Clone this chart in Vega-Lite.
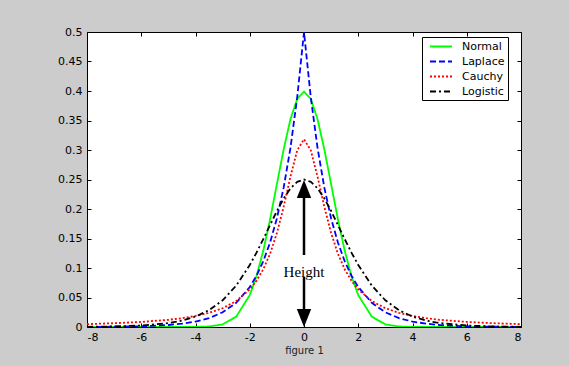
{
  "$schema": "https://vega.github.io/schema/vega-lite/v6.json",
  "width": 434,
  "height": 295,
  "autosize": {"type": "none"},
  "padding": {"left": 87, "top": 32, "right": 48, "bottom": 39},
  "background": "#cccccc",
  "config": {
    "view": {"fill": "white", "stroke": "black", "strokeWidth": 1},
    "axis": {
      "domain": false,
      "grid": false,
      "tickColor": "black",
      "tickSize": -4,
      "labelFont": "DejaVu Sans",
      "labelFontSize": 11,
      "labelColor": "black",
      "titleFont": "DejaVu Sans",
      "titleFontSize": 10,
      "titleFontWeight": "normal",
      "titleColor": "#222222"
    },
    "legend": {
      "orient": "none",
      "legendX": 335,
      "legendY": 5,
      "padding": 3,
      "strokeColor": "black",
      "fillColor": "white",
      "symbolType": "M-2,0L2,0",
      "symbolSize": 121,
      "symbolOffset": 9.5,
      "symbolStrokeWidth": 2,
      "labelFont": "DejaVu Sans",
      "labelFontSize": 11,
      "labelColor": "black",
      "labelOffset": 14.5,
      "labelExpr": "datum.label + '   '",
      "rowPadding": 3
    }
  },
  "resolve": {"axis": {"x": "independent", "y": "independent"}},
  "layer": [
    {
      "data": {"values": [
        {"x": -8, "Normal": 0, "Laplace": 0.00017, "Cauchy": 0.0049, "Logistic": 0.0003},
        {"x": -7, "Normal": 0, "Laplace": 0.00046, "Cauchy": 0.0064, "Logistic": 0.0009},
        {"x": -6, "Normal": 0, "Laplace": 0.0012, "Cauchy": 0.0086, "Logistic": 0.0025},
        {"x": -5, "Normal": 0, "Laplace": 0.0034, "Cauchy": 0.0122, "Logistic": 0.0066},
        {"x": -4.5, "Normal": 0.00002, "Laplace": 0.0056, "Cauchy": 0.015, "Logistic": 0.0109},
        {"x": -4, "Normal": 0.00013, "Laplace": 0.0092, "Cauchy": 0.0187, "Logistic": 0.0177},
        {"x": -3.5, "Normal": 0.0009, "Laplace": 0.0151, "Cauchy": 0.024, "Logistic": 0.0285},
        {"x": -3, "Normal": 0.0044, "Laplace": 0.0249, "Cauchy": 0.0318, "Logistic": 0.0452},
        {"x": -2.5, "Normal": 0.0175, "Laplace": 0.041, "Cauchy": 0.0439, "Logistic": 0.0701},
        {"x": -2, "Normal": 0.054, "Laplace": 0.0677, "Cauchy": 0.0637, "Logistic": 0.105},
        {"x": -1.75, "Normal": 0.0863, "Laplace": 0.0869, "Cauchy": 0.0784, "Logistic": 0.1261},
        {"x": -1.5, "Normal": 0.1295, "Laplace": 0.1116, "Cauchy": 0.0979, "Logistic": 0.1491},
        {"x": -1.25, "Normal": 0.1826, "Laplace": 0.1433, "Cauchy": 0.1242, "Logistic": 0.1729},
        {"x": -1, "Normal": 0.242, "Laplace": 0.1839, "Cauchy": 0.1592, "Logistic": 0.1966},
        {"x": -0.75, "Normal": 0.3011, "Laplace": 0.2362, "Cauchy": 0.2037, "Logistic": 0.2179},
        {"x": -0.5, "Normal": 0.3521, "Laplace": 0.3033, "Cauchy": 0.2546, "Logistic": 0.235},
        {"x": -0.25, "Normal": 0.3867, "Laplace": 0.3894, "Cauchy": 0.2996, "Logistic": 0.2461},
        {"x": 0, "Normal": 0.3989, "Laplace": 0.5, "Cauchy": 0.3183, "Logistic": 0.25},
        {"x": 0.25, "Normal": 0.3867, "Laplace": 0.3894, "Cauchy": 0.2996, "Logistic": 0.2461},
        {"x": 0.5, "Normal": 0.3521, "Laplace": 0.3033, "Cauchy": 0.2546, "Logistic": 0.235},
        {"x": 0.75, "Normal": 0.3011, "Laplace": 0.2362, "Cauchy": 0.2037, "Logistic": 0.2179},
        {"x": 1, "Normal": 0.242, "Laplace": 0.1839, "Cauchy": 0.1592, "Logistic": 0.1966},
        {"x": 1.25, "Normal": 0.1826, "Laplace": 0.1433, "Cauchy": 0.1242, "Logistic": 0.1729},
        {"x": 1.5, "Normal": 0.1295, "Laplace": 0.1116, "Cauchy": 0.0979, "Logistic": 0.1491},
        {"x": 1.75, "Normal": 0.0863, "Laplace": 0.0869, "Cauchy": 0.0784, "Logistic": 0.1261},
        {"x": 2, "Normal": 0.054, "Laplace": 0.0677, "Cauchy": 0.0637, "Logistic": 0.105},
        {"x": 2.5, "Normal": 0.0175, "Laplace": 0.041, "Cauchy": 0.0439, "Logistic": 0.0701},
        {"x": 3, "Normal": 0.0044, "Laplace": 0.0249, "Cauchy": 0.0318, "Logistic": 0.0452},
        {"x": 3.5, "Normal": 0.0009, "Laplace": 0.0151, "Cauchy": 0.024, "Logistic": 0.0285},
        {"x": 4, "Normal": 0.00013, "Laplace": 0.0092, "Cauchy": 0.0187, "Logistic": 0.0177},
        {"x": 4.5, "Normal": 0.00002, "Laplace": 0.0056, "Cauchy": 0.015, "Logistic": 0.0109},
        {"x": 5, "Normal": 0, "Laplace": 0.0034, "Cauchy": 0.0122, "Logistic": 0.0066},
        {"x": 6, "Normal": 0, "Laplace": 0.0012, "Cauchy": 0.0086, "Logistic": 0.0025},
        {"x": 7, "Normal": 0, "Laplace": 0.00046, "Cauchy": 0.0064, "Logistic": 0.0009},
        {"x": 8, "Normal": 0, "Laplace": 0.00017, "Cauchy": 0.0049, "Logistic": 0.0003}
      ]},
      "transform": [{"fold": ["Normal", "Laplace", "Cauchy", "Logistic"], "as": ["dist", "density"]}],
      "mark": {"type": "line", "strokeWidth": 1.8, "clip": true},
      "encoding": {
        "x": {"field": "x", "type": "quantitative",
              "scale": {"domain": [-8, 8], "nice": false, "zero": false},
              "axis": {"values": [-8, -6, -4, -2, 0, 2, 4, 6, 8], "labelExpr": "'' + datum.value", "labelPadding": 8, "title": "figure 1", "titlePadding": 3}},
        "y": {"field": "density", "type": "quantitative",
              "scale": {"domain": [0, 0.5], "nice": false},
              "axis": {"values": [0, 0.05, 0.1, 0.15, 0.2, 0.25, 0.3, 0.35, 0.4, 0.45, 0.5], "format": "~g", "labelPadding": 9, "title": null}},
        "color": {"field": "dist", "type": "nominal", "title": null,
                  "scale": {"domain": ["Normal", "Laplace", "Cauchy", "Logistic"], "range": ["#00ff00", "#0000ff", "#ff0000", "#000000"]}},
        "strokeDash": {"field": "dist", "type": "nominal", "title": null,
                  "scale": {"domain": ["Normal", "Laplace", "Cauchy", "Logistic"], "range": [[1, 0], [6, 3], [2, 2], [6, 3, 2, 3]]}}
      }
    },
    {
      "data": {"values": [{"x": 0, "y": 0.122, "y2": 0.234}, {"x": 0, "y": 0.0153, "y2": 0.085}]},
      "mark": {"type": "rule", "color": "black", "strokeWidth": 2.5},
      "encoding": {
        "x": {"field": "x", "type": "quantitative", "axis": null},
        "y": {"field": "y", "type": "quantitative", "axis": null},
        "y2": {"field": "y2"}
      }
    },
    {
      "data": {"values": [{"x": 0, "y": 0.2337}]},
      "mark": {"type": "point", "shape": "M0,-1L-0.8,1L0.8,1Z", "size": 324, "filled": true, "color": "black", "opacity": 1},
      "encoding": {
        "x": {"field": "x", "type": "quantitative", "axis": null},
        "y": {"field": "y", "type": "quantitative", "axis": null}
      }
    },
    {
      "data": {"values": [{"x": 0, "y": 0.0153}]},
      "mark": {"type": "point", "shape": "M0,1L-0.8,-1L0.8,-1Z", "size": 324, "filled": true, "color": "black", "opacity": 1},
      "encoding": {
        "x": {"field": "x", "type": "quantitative", "axis": null},
        "y": {"field": "y", "type": "quantitative", "axis": null}
      }
    },
    {
      "data": {"values": [{"x": 0, "y": 0.0937, "label": "Height"}]},
      "mark": {"type": "text", "font": "Liberation Serif", "fontSize": 15, "color": "black", "align": "center", "baseline": "middle"},
      "encoding": {
        "x": {"field": "x", "type": "quantitative", "axis": null},
        "y": {"field": "y", "type": "quantitative", "axis": null},
        "text": {"field": "label"}
      }
    },
    {
      "data": {"values": [{"x": 0, "y": 0}]},
      "mark": {"type": "point", "opacity": 0},
      "encoding": {
        "x": {"field": "x", "type": "quantitative",
              "axis": {"orient": "top", "labels": false, "title": null, "values": [-8, -6, -4, -2, 0, 2, 4, 6, 8]}},
        "y": {"field": "y", "type": "quantitative",
              "axis": {"orient": "right", "labels": false, "title": null, "values": [0, 0.05, 0.1, 0.15, 0.2, 0.25, 0.3, 0.35, 0.4, 0.45, 0.5]}}
      }
    }
  ]
}
